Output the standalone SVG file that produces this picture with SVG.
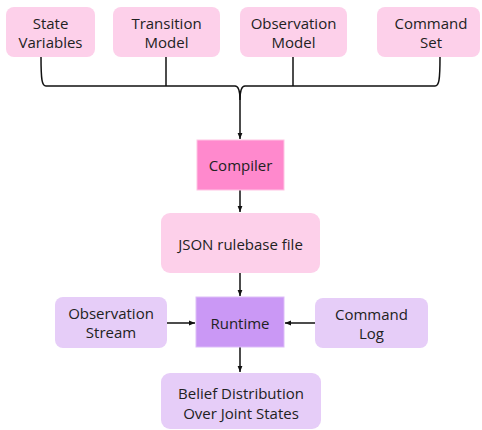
<svg xmlns="http://www.w3.org/2000/svg" width="482" height="430" viewBox="0 0 482 430">
<defs>
<style>
.t{font-family:"Open Sans","Liberation Sans",sans-serif;font-size:15px;fill:#222;text-anchor:middle;dominant-baseline:central}
.pink{fill:#FDD0EA}
.purple{fill:#E6CDF8}
.ln{fill:none;stroke:#111;stroke-width:1.5}
</style>
<marker id="ah" viewBox="0 0 10 10" refX="10" refY="5" markerWidth="6" markerHeight="6" orient="auto" markerUnits="userSpaceOnUse">
<path d="M0,1 L10,5 L0,9 z" fill="#111"/>
</marker>
</defs>
<rect width="482" height="430" fill="#fff"/>
<g id="connectors">
<path class="ln" d="M41,57 C41,80 42,86 46,86 L235,86 C238,86 240,90 240,100"/>
<path class="ln" d="M440,57 C440,80 439,86 435,86 L245,86 C242,86 240,90 240,100"/>
<path class="ln" d="M166,57 L166,86"/>
<path class="ln" d="M293,57 L293,86"/>
<path class="ln" d="M240,100 L240,139" marker-end="url(#ah)"/>
<path class="ln" d="M240,190 L240,212" marker-end="url(#ah)"/>
<path class="ln" d="M240,273 L240,296" marker-end="url(#ah)"/>
<path class="ln" d="M167,323 L195,323" marker-end="url(#ah)"/>
<path class="ln" d="M315,323 L285,323" marker-end="url(#ah)"/>
<path class="ln" d="M240,347 L240,372" marker-end="url(#ah)"/>
</g>
<g id="state-variables">
<rect class="pink" x="6" y="7" width="89" height="50" rx="8"/>
<text class="t" x="50.5" y="23">State</text>
<text class="t" x="50.5" y="42">Variables</text>
</g>
<g id="transition-model">
<rect class="pink" x="113" y="7" width="107" height="50" rx="8"/>
<text class="t" x="166.5" y="23">Transition</text>
<text class="t" x="166.5" y="42">Model</text>
</g>
<g id="observation-model">
<rect class="pink" x="240" y="7" width="107" height="50" rx="8"/>
<text class="t" x="293.5" y="23">Observation</text>
<text class="t" x="293.5" y="42">Model</text>
</g>
<g id="command-set">
<rect class="pink" x="377" y="7" width="103" height="50" rx="8"/>
<text class="t" x="431" y="23">Command</text>
<text class="t" x="431" y="42">Set</text>
</g>
<g id="compiler">
<rect x="197" y="140" width="87" height="50" fill="#FF89CD" stroke="#FFC4E4" stroke-width="1"/>
<text class="t" x="240.5" y="165">Compiler</text>
</g>
<g id="json-rulebase">
<rect class="pink" x="161" y="213" width="159" height="60" rx="9"/>
<text class="t" x="240.5" y="244">JSON rulebase file</text>
</g>
<g id="observation-stream">
<rect class="purple" x="55" y="297" width="112" height="51" rx="8"/>
<text class="t" x="111" y="313">Observation</text>
<text class="t" x="111" y="332">Stream</text>
</g>
<g id="runtime">
<rect x="196" y="297" width="88" height="50" fill="#CA98F5" stroke="#DDBDF8" stroke-width="1"/>
<text class="t" x="240" y="323">Runtime</text>
</g>
<g id="command-log">
<rect class="purple" x="315" y="298" width="113" height="50" rx="8"/>
<text class="t" x="371.5" y="314">Command</text>
<text class="t" x="371.5" y="333">Log</text>
</g>
<g id="belief-distribution">
<rect class="purple" x="161" y="373" width="160" height="56" rx="9"/>
<text class="t" x="241" y="393">Belief Distribution</text>
<text class="t" x="241" y="413">Over Joint States</text>
</g>
</svg>
